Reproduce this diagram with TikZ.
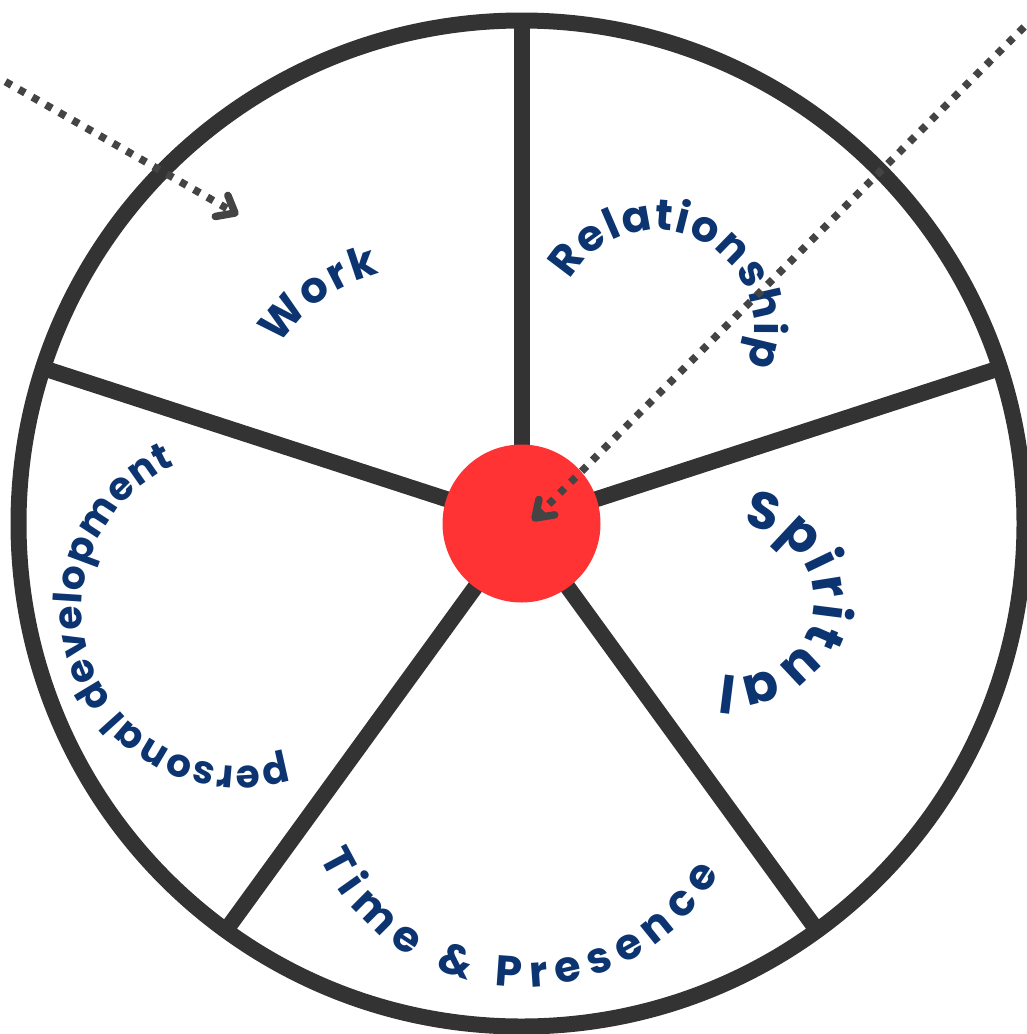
\documentclass[tikz,border=0pt]{standalone}
\usepackage{fontspec}
\usetikzlibrary{decorations.text}
\newfontfamily\lblfont{Poppins}
\definecolor{rimgray}{RGB}{51,51,51}
\definecolor{dotgray}{RGB}{68,68,68}
\definecolor{hubred}{RGB}{255,51,51}
\definecolor{lblblue}{RGB}{12,52,112}
\begin{document}
\begin{tikzpicture}[x=1pt,y=1pt,
  rimstyle/.style={circle,draw=rimgray,line width=16pt,minimum size=1006pt,inner sep=0pt,outer sep=0pt},
  spokestyle/.style={draw=rimgray,line width=16pt},
  hubstyle/.style={circle,fill=hubred,minimum size=158pt,inner sep=0pt,outer sep=0pt},
  pointer/.style={draw=dotgray,line width=7.5pt,dash pattern=on 7pt off 8.5pt},
  chevron/.style={draw=dotgray,line width=7.5pt,line cap=round,line join=round},
  arclabel/.style={decorate,decoration={text along path,text align=fit to path,text color=lblblue}}
]
\useasboundingbox (0,0) rectangle (1027,-1034);
\clip (0,0) rectangle (1027,-1034);
\node[rimstyle] (wheel) at (521.5,-523.5) {};
\foreach \a in {90,18,-54,-126,162}
  \draw[spokestyle] (wheel.center) -- (wheel.\a);
\node[hubstyle] (hub) at (wheel.center) {};
% labels
\path[arclabel,decoration={text={|\lblfont\bfseries\fontsize{43}{43}\selectfont|Work}}]
  (420,-436) ++(147:167) arc[start angle=147,end angle=104,radius=167];
\path[arclabel,decoration={text={|\lblfont\bfseries\fontsize{43}{43}\selectfont|Relationship}}]
  (656,-328) ++(151:98) arc[start angle=151,end angle=-22,radius=98];
\path[arclabel,decoration={text={|\lblfont\bfseries\fontsize{52}{52}\selectfont|Spiritual}}]
  (739,-601) ++(87:75) arc[start angle=87,end angle=-103,radius=75];
\path[arclabel,decoration={text={|\lblfont\bfseries\fontsize{43}{43}\selectfont|Time {\&} Presence}}]
  (524,-762) ++(205:225) arc[start angle=205,end angle=330.5,radius=225];
\path[arclabel,decoration={text={|\lblfont\bfseries\fontsize{39}{39}\selectfont|personal development}}]
  (239,-609) ++(-72.5:157) arc[start angle=-72.5,end angle=-246,radius=157];
% pointers
\coordinate (p1s) at (-8,-74);
\coordinate (p1e) at (235,-213);
\coordinate (p2s) at (1035,-16);
\coordinate (p2e) at (535,-518);
\draw[pointer] (p1s) -- ([shift={(150.3:6)}]p1e);
\draw[chevron] ([shift={(112:19)}]p1e) -- (p1e) -- ([shift={(190:20)}]p1e);
\draw[pointer] (p2s) -- ([shift={(45:6)}]p2e);
\draw[chevron] ([shift={(78:19)}]p2e) -- (p2e) -- ([shift={(9:20)}]p2e);
\end{tikzpicture}
\end{document}
